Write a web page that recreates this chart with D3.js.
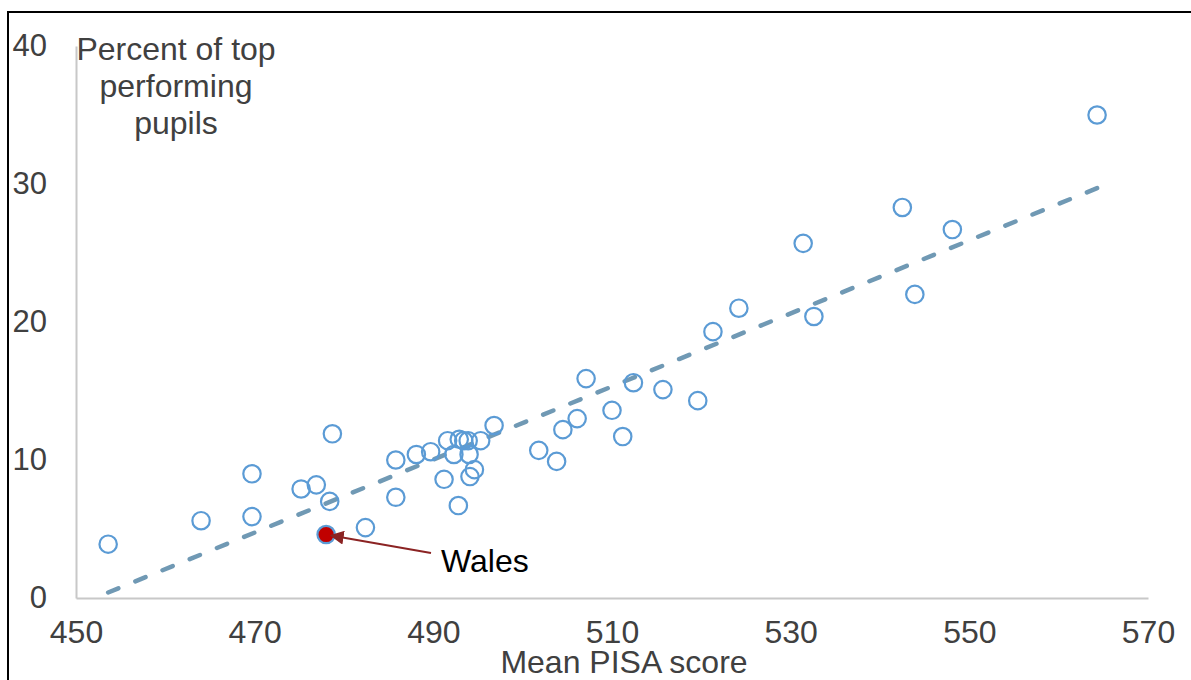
<!DOCTYPE html>
<html>
<head>
<meta charset="utf-8">
<script src="https://cdn.jsdelivr.net/npm/d3@7"></script>
<style>
  html, body { margin: 0; padding: 0; background: #fff; }
  svg { display: block; }
  text { font-family: "Liberation Sans", Arial, sans-serif; }
</style>
</head>
<body>
<svg id="chart" width="1191" height="680"></svg>
<script>
// ---- data ----
const scores = [453.6, 464.0, 469.7, 469.7, 475.2, 476.9, 478.7, 478.4, 482.4,
  485.8, 485.8, 488.1, 489.7, 491.2, 491.6, 492.3, 492.9, 493.4, 493.9, 494.0,
  494.6, 494.1, 492.8, 495.3, 496.8, 501.8, 503.8, 504.5, 506.1, 507.1, 510.0,
  511.2, 512.4, 515.7, 519.6, 521.3, 524.2, 531.4, 532.6, 542.5, 543.9, 548.1, 564.3];
const percents = [3.9, 5.6, 9.0, 5.9, 7.9, 8.2, 11.9, 7.0, 5.1,
  10.0, 7.3, 10.4, 10.6, 8.6, 11.4, 10.4, 11.5, 11.4, 11.4, 10.4,
  9.3, 8.8, 6.7, 11.4, 12.5, 10.7, 9.9, 12.2, 13.0, 15.9, 13.6,
  11.7, 15.6, 15.1, 14.3, 19.3, 21.0, 25.7, 20.4, 28.3, 22.0, 26.7, 35.0];
const walesScore = [478.0];
const walesPercent = [4.6];
const trendX = [453.6, 564.3];
const trendY = [0.4, 29.7];
const xTicks = [450, 470, 490, 510, 530, 550, 570];
const yTicks = [0, 10, 20, 30, 40];
const yTitleLines = ["Percent of top", "performing", "pupils"];
const xTitle = "Mean PISA score";
const walesLabel = "Wales";

// ---- layout ----
const svg = d3.select("#chart");
const x = d3.scaleLinear().domain([450, 570]).range([76, 1148]);
const y = d3.scaleLinear().domain([0, 40]).range([598, 46]);
const FONT = "'Liberation Sans', Arial, sans-serif";

// outer border
svg.append("rect").attr("x", 8).attr("y", 12).attr("width", 1300).attr("height", 800)
  .attr("fill", "none").attr("stroke", "#000").attr("stroke-width", 2);

// arrow marker
svg.append("defs").append("marker")
  .attr("id", "arr").attr("viewBox", "0 0 10 10").attr("refX", 9).attr("refY", 5)
  .attr("markerWidth", 7).attr("markerHeight", 7).attr("markerUnits", "strokeWidth")
  .attr("orient", "auto")
  .append("path").attr("d", "M0,0 L10,5 L0,10 Z").attr("fill", "#8b2323");

// axes
const xAxis = d3.axisBottom(x).tickValues(xTicks).tickSize(0).tickPadding(22).tickFormat(d3.format("d"));
const gx = svg.append("g").attr("transform", `translate(0,${y(0)})`).call(xAxis);
gx.select(".domain").attr("stroke", "#c8c8c8").attr("stroke-width", 2);
gx.selectAll("text").attr("font-size", 32).attr("fill", "#404040").attr("font-family", FONT);

const yAxis = d3.axisLeft(y).tickValues(yTicks).tickSize(0).tickPadding(29).tickFormat(d3.format("d"));
const gy = svg.append("g").attr("transform", `translate(${x(450)},0)`).call(yAxis);
gy.select(".domain").attr("stroke", "#c8c8c8").attr("stroke-width", 2);
gy.selectAll("text").attr("font-size", 31).attr("fill", "#404040").attr("font-family", FONT);

// y title
const yt = svg.append("text").attr("x", 176).attr("y", 60).attr("text-anchor", "middle")
  .attr("font-size", 32).attr("fill", "#404040");
yTitleLines.forEach((l, i) => yt.append("tspan").attr("x", 176).attr("dy", i === 0 ? 0 : 37).text(l));

// x title
svg.append("text").attr("x", 624).attr("y", 673).attr("text-anchor", "middle")
  .attr("font-size", 32).attr("fill", "#404040").text(xTitle);

// trend line
const tx1 = x(trendX[0]), ty1 = y(trendY[0]), tx2 = x(trendX[1]), ty2 = y(trendY[1]);
const tLen = Math.hypot(tx2 - tx1, ty2 - ty1);
const dash = 11, nPer = 36;
const gap = (tLen - dash) / nPer - dash;
svg.append("line")
  .attr("x1", tx1).attr("y1", ty1).attr("x2", tx2).attr("y2", ty2)
  .attr("stroke", "#7099b4").attr("stroke-width", 4.5)
  .attr("stroke-dasharray", `${dash},${gap}`).attr("stroke-linecap", "round");

// points
svg.append("g").selectAll("circle").data(scores.map((s, i) => [s, percents[i]]))
  .join("circle")
  .attr("cx", d => x(d[0])).attr("cy", d => y(d[1])).attr("r", 8.7)
  .attr("fill", "none").attr("stroke", "#5b9bd5").attr("stroke-width", 2.2);

// Wales
svg.append("circle").attr("cx", x(walesScore[0])).attr("cy", y(walesPercent[0])).attr("r", 8.7)
  .attr("fill", "#c00000").attr("stroke", "#5b9bd5").attr("stroke-width", 2.2);

svg.append("line")
  .attr("x1", 431).attr("y1", 553)
  .attr("x2", x(walesScore[0]) + 5).attr("y2", y(walesPercent[0]) + 1)
  .attr("stroke", "#8b2323").attr("stroke-width", 2)
  .attr("marker-end", "url(#arr)");

svg.append("text").attr("x", 441).attr("y", 572).attr("font-size", 32)
  .attr("fill", "#000").text(walesLabel);
</script>
</body>
</html>
